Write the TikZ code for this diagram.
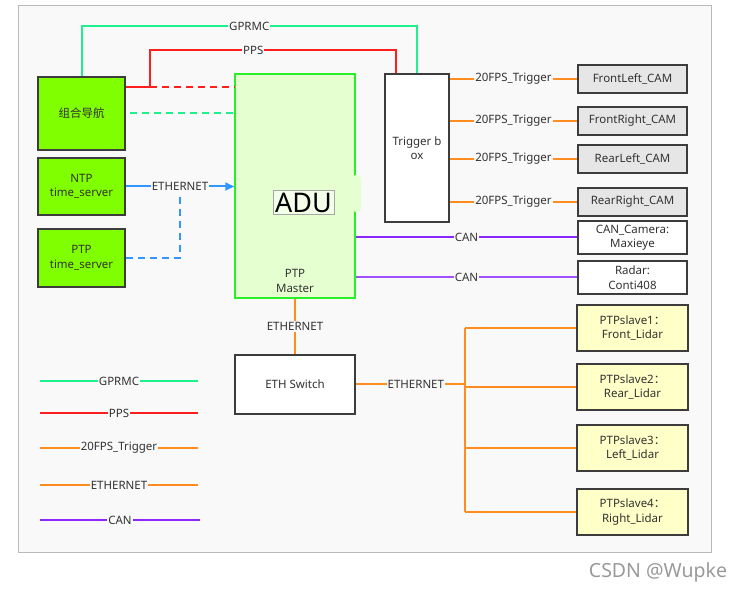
\documentclass[tikz,border=0pt]{standalone}
\usepackage{fontspec}
\setmainfont{Noto Sans}
\newfontfamily\cjk{Noto Sans CJK SC}
\usepackage{tikz}
\usetikzlibrary{positioning}
\usetikzlibrary{arrows.meta}
\usetikzlibrary{calc}

\definecolor{canvas}{RGB}{249,249,249}
\definecolor{framegray}{RGB}{185,185,185}
\definecolor{boxedge}{RGB}{60,60,60}
\definecolor{txtgray}{RGB}{50,50,50}
\definecolor{navgreen}{RGB}{128,255,0}
\definecolor{adufill}{RGB}{230,255,208}
\definecolor{aduedge}{RGB}{40,240,40}
\definecolor{camgray}{RGB}{230,230,230}
\definecolor{lidaryellow}{RGB}{255,255,200}
\definecolor{gprmcgreen}{RGB}{30,240,140}
\definecolor{ppsred}{RGB}{255,30,30}
\definecolor{trigorange}{RGB}{255,140,30}
\definecolor{ethblue}{RGB}{50,150,255}
\definecolor{canpurple}{RGB}{140,40,255}
\definecolor{radarpurple}{RGB}{160,80,255}

\begin{document}
\begin{tikzpicture}[
            x = 1pt, y = -1pt, % one unit = one pixel of the sketch
            font = \fontsize{11.5}{14.5}\selectfont,
            wire/.style = {line width = 2pt},
            lbl/.style = {fill = canvas, inner sep = 1pt, text = txtgray},
            dashline/.style = {dash pattern = on 7pt off 5pt}
            ]

        \tikzstyle{box}=[
            draw = boxedge,
            line width = 1.5pt,
            align = center,
            text = txtgray,
            inner sep = 2pt
        ]
        \tikzstyle{srcbox}=[box, fill = navgreen, minimum width = 87pt]
        \tikzstyle{cambox}=[box, fill = camgray, minimum width = 109pt, minimum height = 28pt]
        \tikzstyle{lidarbox}=[box, fill = lidaryellow, minimum width = 111pt, minimum height = 46pt]

        % frame
        \useasboundingbox (0,0) rectangle (734,601);
        \draw[framegray, fill = canvas, line width = 0.8pt] (18,5) rectangle (711,552);

        % time sources
        \node[srcbox, minimum height = 73pt] (NAV) at (81.5,113.5) {\cjk 组合导航};
        \node[srcbox, minimum height = 57pt] (NTP) [below = 6.5pt of NAV] {NTP\\time\_server};
        \node[srcbox, minimum height = 58pt] (PTP) [below = 12.5pt of NTP] {PTP\\time\_server};

        % ADU
        \node[box, draw = aduedge, fill = adufill, minimum width = 120pt, minimum height = 224pt] (ADU) at (295,186) {};
        \fill[adufill, rounded corners = 4pt] (352,175) rectangle (361,212);
        \node[draw = gray!70, line width = 0.6pt, fill = white!55!adufill, inner sep = 2pt,
              font = \fontsize{27}{30}\selectfont] (ADUL) at (303.5,202.5) {ADU};
        \node[align = center, text = txtgray] (MASTER) [above = 3pt of ADU.south] {PTP\\Master};

        % trigger box and cameras
        \node[box, fill = white, minimum width = 64pt, minimum height = 148pt] (TRIG) at (417,148) {Trigger b\\ox};

        \node[cambox] (CAM1) at (632.5,79) {FrontLeft\_CAM};
        \node[cambox] (CAM2) [below = 12.5pt of CAM1] {FrontRight\_CAM};
        \node[cambox] (CAM3) [below = 8.5pt of CAM2] {RearLeft\_CAM};
        \node[cambox] (CAM4) [below = 13.5pt of CAM3] {RearRight\_CAM};
        \node[cambox, fill = white, minimum height = 33pt, inner sep = 0pt] (MAXI) [below = 3.5pt of CAM4] {CAN\_Camera:\\Maxieye};
        \node[cambox, fill = white, minimum height = 33pt, inner sep = 0pt] (RADAR) [below = 5.5pt of MAXI] {Radar:\\Conti408};

        % switch and lidars
        \node[box, fill = white, minimum width = 120pt, minimum height = 59pt] (SW) [below = 55.5pt of ADU] {ETH Switch};

        \node[lidarbox] (LID1) at (632.5,328) {PTPslave1{\cjk ：}\\Front\_Lidar};
        \node[lidarbox] (LID2) [below = 11.5pt of LID1] {PTPslave2{\cjk ：}\\Rear\_Lidar};
        \node[lidarbox] (LID3) [below = 13.5pt of LID2] {PTPslave3{\cjk ：}\\Left\_Lidar};
        \node[lidarbox] (LID4) [below = 16.5pt of LID3] {PTPslave4{\cjk ：}\\Right\_Lidar};

        % helper points
        \coordinate (GPROW) at (0,26);
        \coordinate (PPSROW) at (0,50);
        \coordinate (PPSKNEE) at (150,87);
        \coordinate (TRIGPPS) at ([xshift = -21pt]TRIG.north);
        \coordinate (NTPJOIN) at ($(NTP.east)!0.5!(ADU.west |- NTP.east)$);
        \coordinate (BUS) at (465,384);

        % GPRMC and PPS
        \draw[wire, gprmcgreen] (NAV.north) |- node[lbl, pos = 0.75] {GPRMC} (TRIG.north |- GPROW) -- (TRIG.north);
        \draw[wire, ppsred] (NAV.east |- PPSKNEE) -- (PPSKNEE) |- node[lbl, pos = 0.71] {PPS} (TRIGPPS |- PPSROW) -- (TRIGPPS);
        \draw[wire, ppsred, dashline] (PPSKNEE) -- (ADU.west |- PPSKNEE);
        \draw[wire, gprmcgreen, dashline] ([xshift = 4pt]NAV.east) -- (ADU.west |- NAV.east);

        % NTP / PTP ethernet
        \draw[wire, ethblue, dashline] (PTP.east) -| (NTPJOIN);
        \draw[wire, ethblue, -{Triangle[length = 9pt, width = 8pt]}] (NTP.east) -- node[lbl] {ETHERNET} (ADU.west |- NTP.east);

        % triggers
        \draw[wire, trigorange] (TRIG.east |- CAM1.west) -- node[lbl] {20FPS\_Trigger} (CAM1.west);
        \draw[wire, trigorange] (TRIG.east |- CAM2.west) -- node[lbl] {20FPS\_Trigger} (CAM2.west);
        \draw[wire, trigorange] (TRIG.east |- CAM3.west) -- node[lbl] {20FPS\_Trigger} (CAM3.west);
        \draw[wire, trigorange] (TRIG.east |- CAM4.west) -- node[lbl] {20FPS\_Trigger} (CAM4.west);

        % CAN
        \draw[wire, canpurple] (ADU.east |- MAXI.west) -- node[lbl] {CAN} (MAXI.west);
        \draw[wire, radarpurple] (ADU.east |- RADAR.west) -- node[lbl] {CAN} (RADAR.west);

        % ethernet tree
        \draw[wire, trigorange] (ADU.south) -- node[lbl] {ETHERNET} (SW.north);
        \draw[wire, trigorange] (BUS |- LID1.west) -- (BUS |- LID4.west);
        \draw[wire, trigorange] (SW.east) -- node[lbl, pos = 0.55] {ETHERNET} (BUS |- SW.east);
        \draw[wire, trigorange] (BUS |- LID1.west) -- (LID1.west);
        \draw[wire, trigorange] (BUS |- LID2.west) -- (LID2.west);
        \draw[wire, trigorange] (BUS |- LID3.west) -- (LID3.west);
        \draw[wire, trigorange] (BUS |- LID4.west) -- (LID4.west);

        % legend
        \coordinate (LEG1L) at (40,381);  \coordinate (LEG1R) at (198,381);
        \coordinate (LEG2L) at (40,413);  \coordinate (LEG2R) at (198,413);
        \coordinate (LEG3L) at (40,448);  \coordinate (LEG3R) at (198,448);
        \coordinate (LEG4L) at (40,485);  \coordinate (LEG4R) at (198,485);
        \coordinate (LEG5L) at (40,520);  \coordinate (LEG5R) at (200,520);
        \draw[wire, gprmcgreen] (LEG1L) -- node[lbl] {GPRMC} (LEG1R);
        \draw[wire, ppsred] (LEG2L) -- node[lbl] {PPS} (LEG2R);
        \draw[wire, trigorange] (LEG3L) -- node[lbl] {20FPS\_Trigger} (LEG3R);
        \draw[wire, trigorange] (LEG4L) -- node[lbl] {ETHERNET} (LEG4R);
        \draw[wire, canpurple] (LEG5L) -- node[lbl] {CAN} (LEG5R);

        % watermark
        \node[text = gray!80, font = \fontsize{19.5}{22}\selectfont] (MARK) at (658,572) {CSDN @Wupke};

  \end{tikzpicture}
\end{document}
